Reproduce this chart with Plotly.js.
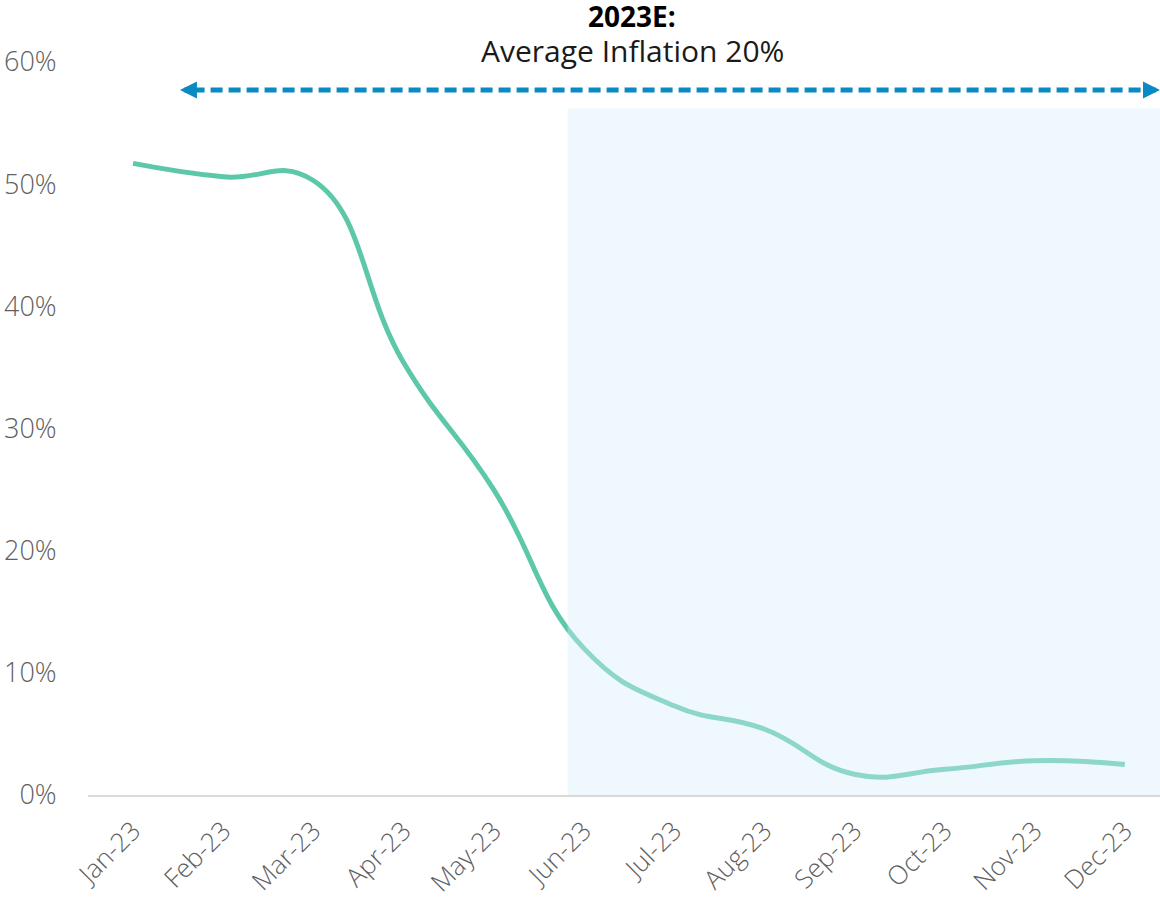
<!DOCTYPE html>
<html>
<head>
<meta charset="utf-8">
<script src="https://cdn.plot.ly/plotly-3.0.1.min.js"></script>
<style>
  html, body { margin: 0; padding: 0; background: #ffffff; }
  #chart { width: 1160px; height: 898px; }
</style>
</head>
<body>
<div id="chart"></div>
<script>
// Monthly year-on-year inflation, 2023 (actuals through May, estimates afterwards)
const months = ['Jan-23', 'Feb-23', 'Mar-23', 'Apr-23', 'May-23', 'Jun-23',
                'Jul-23', 'Aug-23', 'Sep-23', 'Oct-23', 'Nov-23', 'Dec-23'];
const inflation = [51.7, 50.6, 50.3, 35.4, 25.0, 12.0, 7.3, 5.4, 1.7, 2.1, 2.8, 2.5];

const yTicks = [0, 10, 20, 30, 40, 50, 60];
const yTickText = ['0%', '10%', '20%', '30%', '40%', '50%', '60%'];

// Estimate window (category index where the forecast band starts) and the
// span covered by the "2023E" bracket
const forecastStart = 4.82;
const forecastTop = 56.2;
const bracketStart = 0.52;
const bracketLevel = 57.7;
const xMin = -0.5;
const xMax = 11.39;

const lineColor = '#5CC8A9';
const bracketColor = '#0A8AC2';
const tickColor = '#5f5f5f';
const FONT = '"Open Sans", "Liberation Sans", sans-serif';

const trace = {
  x: months.map((_, i) => i),
  y: inflation,
  type: 'scatter',
  mode: 'lines',
  line: { color: lineColor, width: 5, shape: 'spline', smoothing: 1.3 },
  hoverinfo: 'skip',
  showlegend: false
};

const layout = {
  width: 1160,
  height: 898,
  margin: { l: 88, r: 0, t: 62, b: 103, pad: 0 },
  paper_bgcolor: '#ffffff',
  plot_bgcolor: '#ffffff',
  showlegend: false,
  font: { family: FONT, color: tickColor },
  xaxis: {
    range: [xMin, xMax],
    tickmode: 'array',
    tickvals: months.map((_, i) => i),
    ticktext: months,
    tickangle: -45,
    tickfont: { family: FONT, size: 26, color: tickColor, weight: 300 },
    showgrid: false,
    zeroline: false,
    showline: true,
    linecolor: '#D9D9D9',
    linewidth: 2,
    ticks: 'outside',
    ticklen: 8,
    tickcolor: 'rgba(0,0,0,0)',
    fixedrange: true
  },
  yaxis: {
    range: [0, 60],
    tickmode: 'array',
    tickvals: yTicks,
    ticktext: yTickText,
    tickfont: { family: FONT, size: 27, color: tickColor, weight: 300 },
    showgrid: false,
    zeroline: false,
    showline: false,
    ticks: 'outside',
    ticklen: 25,
    tickcolor: 'rgba(0,0,0,0)',
    fixedrange: true
  },
  shapes: [
    // light-blue wash over the estimate months (drawn over the line so it tints it)
    {
      type: 'rect', layer: 'above',
      xref: 'x', yref: 'y',
      x0: forecastStart, x1: xMax, y0: 0, y1: forecastTop,
      fillcolor: 'rgba(212,237,250,0.4)',
      line: { width: 0 }
    },
    // dashed bracket spanning the year
    {
      type: 'line', layer: 'above',
      xref: 'x', yref: 'y',
      x0: bracketStart + 0.14, x1: xMax - 0.14, y0: bracketLevel, y1: bracketLevel,
      line: { color: bracketColor, width: 5, dash: '12px,6px' }
    }
  ],
  annotations: [
    // arrow heads at both ends of the bracket
    {
      xref: 'x', yref: 'y', x: bracketStart, y: bracketLevel,
      ax: 16, ay: 0, text: '', showarrow: true,
      arrowhead: 2, arrowsize: 0.68, arrowwidth: 5, arrowcolor: bracketColor,
      standoff: 0
    },
    {
      xref: 'x', yref: 'y', x: xMax, y: bracketLevel,
      ax: -16, ay: 0, text: '', showarrow: true,
      arrowhead: 2, arrowsize: 0.68, arrowwidth: 5, arrowcolor: bracketColor,
      standoff: 0
    },
    {
      xref: 'paper', yref: 'paper', x: (632 - 88) / 1072, y: 1,
      yshift: 46, xanchor: 'center', yanchor: 'middle',
      text: '<b>2023E:</b>', showarrow: false,
      font: { family: FONT, size: 28, color: '#000000' }
    },
    {
      xref: 'paper', yref: 'paper', x: (632 - 88) / 1072, y: 1,
      yshift: 12, xanchor: 'center', yanchor: 'middle',
      text: 'Average Inflation 20%', showarrow: false,
      font: { family: FONT, size: 30, color: '#1a1a1a' }
    }
  ]
};

Plotly.newPlot('chart', [trace], layout, { displayModeBar: false, staticPlot: true });
</script>
</body>
</html>
